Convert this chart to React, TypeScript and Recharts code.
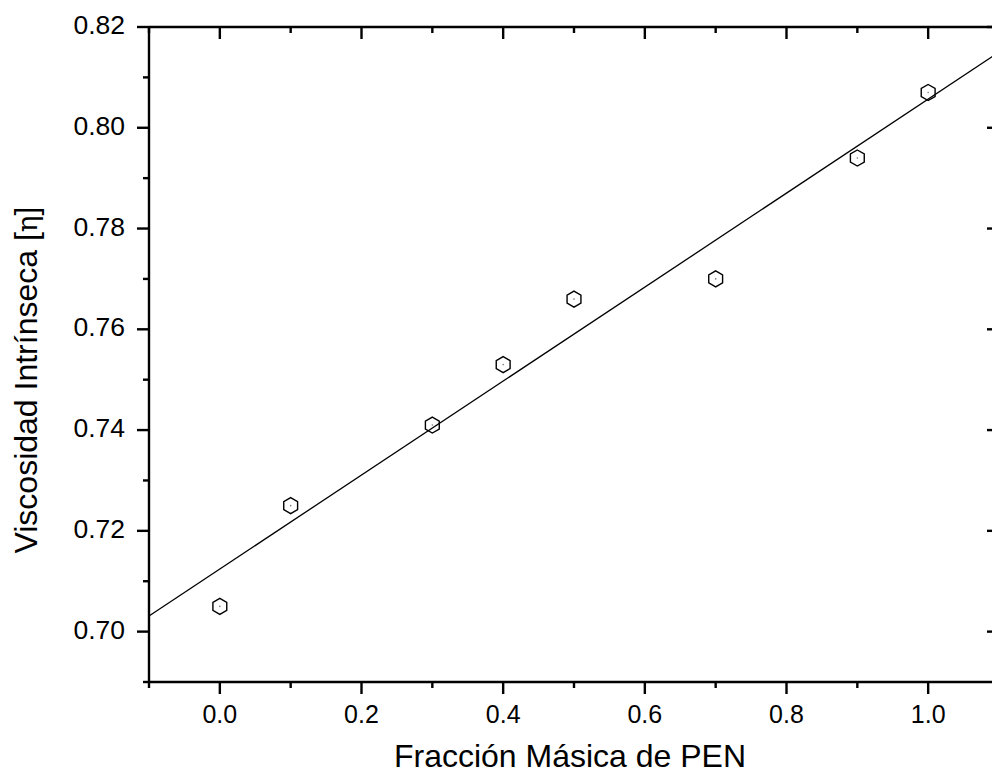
import React from "react";
import { ComposedChart, Line, Scatter, XAxis, YAxis } from "recharts";

// measured points (fracción másica PEN vs viscosidad intrínseca)
const fraction = [0, 0.1, 0.3, 0.4, 0.5, 0.7, 0.9, 1.0];
const viscosity = [0.705, 0.725, 0.741, 0.753, 0.766, 0.77, 0.794, 0.807];

// linear fit, ends
const fitX = [-0.1, 1.1];
const fitY = [0.7031, 0.815];

const xTicks = [-0.1, 0, 0.1, 0.2, 0.3, 0.4, 0.5, 0.6, 0.7, 0.8, 0.9, 1.0, 1.1];
const yTicks = [0.69, 0.7, 0.71, 0.72, 0.73, 0.74, 0.75, 0.76, 0.77, 0.78, 0.79, 0.8, 0.81, 0.82];

const points = fraction.map((x, i) => ({ x, y: viscosity[i] }));
const fit = fitX.map((x, i) => ({ x, y: fitY[i] }));

const FONT = '"Liberation Sans", Arial, sans-serif';
const AXIS_W = 2.4;

const isMajorX = (v: number) => Math.round(v * 10) % 2 === 0;
const isMajorY = (v: number) => Math.round(v * 100) % 2 === 0;

function BottomTick({ x, y, payload }: any) {
  const major = isMajorX(payload.value);
  return (
    <g>
      <line x1={x} x2={x} y1={y} y2={y + (major ? 12 : 6)} stroke="#000" strokeWidth={AXIS_W} />
      {major && (
        <text x={x} y={y + 41} textAnchor="middle" fontSize={25} fontFamily={FONT} fill="#000">
          {payload.value.toFixed(1)}
        </text>
      )}
    </g>
  );
}

// inward ticks on the top frame
function TopTick({ x, y, payload }: any) {
  const major = isMajorX(payload.value);
  return <line x1={x} x2={x} y1={y} y2={y + (major ? 12 : 6)} stroke="#000" strokeWidth={AXIS_W} />;
}

function LeftTick({ x, y, payload }: any) {
  const major = isMajorY(payload.value);
  return (
    <g>
      <line x1={x} x2={x - (major ? 12 : 6)} y1={y} y2={y} stroke="#000" strokeWidth={AXIS_W} />
      {major && (
        <text x={x - 24} y={y + 7} textAnchor="end" fontSize={26.5} fontFamily={FONT} fill="#000">
          {payload.value.toFixed(2)}
        </text>
      )}
    </g>
  );
}

// inward ticks on the right frame
function RightTick({ x, y, payload }: any) {
  const major = isMajorY(payload.value);
  return <line x1={x} x2={x - (major ? 12 : 6)} y1={y} y2={y} stroke="#000" strokeWidth={AXIS_W} />;
}

function Hexagon({ cx, cy }: any) {
  const r = 8;
  const pts = [0, 1, 2, 3, 4, 5]
    .map((k) => {
      const a = ((-90 + 60 * k) * Math.PI) / 180;
      return `${cx + r * Math.cos(a)},${cy + r * Math.sin(a)}`;
    })
    .join(" ");
  return (
    <g>
      <polygon points={pts} fill="none" stroke="#000" strokeWidth={1.4} />
      <circle cx={cx} cy={cy} r={0.8} fill="#777" />
    </g>
  );
}

export default function App() {
  return (
    <div style={{ position: "absolute", left: 0, top: 0, width: 992, height: 776, overflow: "hidden", background: "#fff" }}>
      <ComposedChart width={1010} height={776} margin={{ top: 26, right: 10, bottom: 0, left: 0 }}>
        <XAxis
          xAxisId="bottom"
          dataKey="x"
          type="number"
          domain={[-0.1, 1.1]}
          ticks={xTicks}
          allowDataOverflow
          height={94}
          tickSize={0}
          tickMargin={0}
          tickLine={false}
          interval={0}
          axisLine={{ stroke: "#000", strokeWidth: AXIS_W }}
          tick={<BottomTick />}
        />
        <XAxis
          xAxisId="top"
          orientation="top"
          dataKey="x"
          type="number"
          domain={[-0.1, 1.1]}
          ticks={xTicks}
          allowDataOverflow
          height={1}
          tickSize={0}
          tickMargin={0}
          tickLine={false}
          interval={0}
          axisLine={{ stroke: "#000", strokeWidth: AXIS_W }}
          tick={<TopTick />}
        />
        <YAxis
          yAxisId="left"
          type="number"
          domain={[0.69, 0.82]}
          ticks={yTicks}
          allowDataOverflow
          width={149}
          tickSize={0}
          tickMargin={0}
          tickLine={false}
          interval={0}
          axisLine={{ stroke: "#000", strokeWidth: AXIS_W }}
          tick={<LeftTick />}
        />
        <YAxis
          yAxisId="right"
          orientation="right"
          type="number"
          domain={[0.69, 0.82]}
          ticks={yTicks}
          allowDataOverflow
          width={1}
          tickSize={0}
          tickMargin={0}
          tickLine={false}
          interval={0}
          axisLine={{ stroke: "#000", strokeWidth: AXIS_W }}
          tick={<RightTick />}
        />
        <Line
          xAxisId="top"
          yAxisId="right"
          data={fit}
          dataKey="y"
          type="linear"
          stroke="#000"
          strokeWidth={1.3}
          dot={false}
          activeDot={false}
          isAnimationActive={false}
        />
        <Scatter
          xAxisId="bottom"
          yAxisId="left"
          data={points}
          dataKey="y"
          shape={<Hexagon />}
          isAnimationActive={false}
        />
      </ComposedChart>
      <svg width={992} height={776} style={{ position: "absolute", left: 0, top: 0, pointerEvents: "none" }}>
        <text x={570} y={767} textAnchor="middle" fontSize={32} fontFamily={FONT} fill="#000">
          Fracción Másica de PEN
        </text>
        <text
          transform="translate(37,380) rotate(-90)"
          textAnchor="middle"
          fontSize={32}
          fontFamily={FONT}
          fill="#000"
        >
          Viscosidad Intrínseca [<tspan fontFamily='"DejaVu Serif", serif' fontSize={28}>η</tspan>]
        </text>
      </svg>
    </div>
  );
}
